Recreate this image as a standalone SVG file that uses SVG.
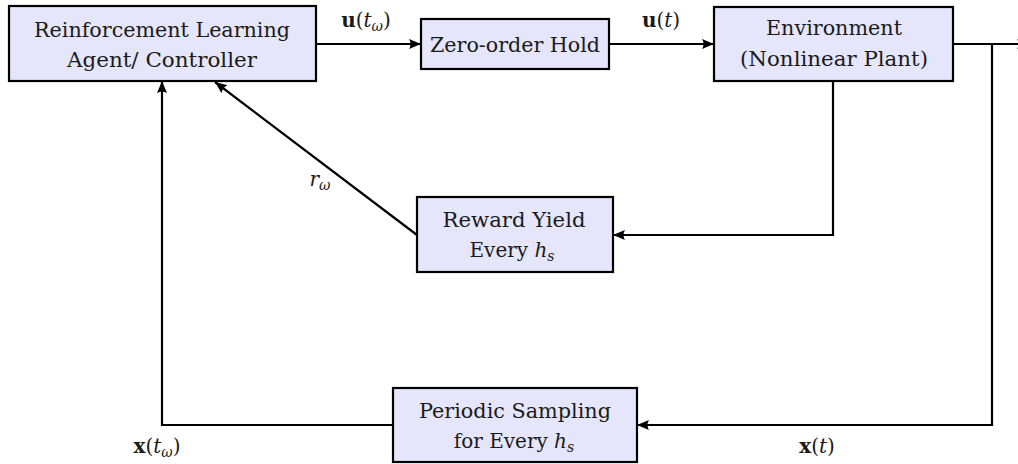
<svg xmlns="http://www.w3.org/2000/svg" width="1018" height="464" viewBox="0 0 1018 464">
  <style>
    .box { fill: #e5e5fb; stroke: #000; stroke-width: 2.2; }
    .lbl { font-family: "DejaVu Serif", "Liberation Serif", serif; font-size: 20px; fill: #1a1a1a; }
    .c { text-anchor: middle; }
    .wire { fill: none; stroke: #000; stroke-width: 2.2; marker-end: url(#head); }
    .it { font-style: italic; }
    .bf { font-weight: bold; }
    .sub { font-size: 14px; font-style: italic; }
  </style>
  <defs>
    <marker id="head" markerUnits="userSpaceOnUse" markerWidth="13" markerHeight="11" refX="12" refY="5" orient="auto">
      <path d="M0,0 L12,5 L0,10 Q3,5 0,0 z" fill="#000"/>
    </marker>
  </defs>

  <!-- connectors -->
  <g id="connectors">
    <path class="wire" d="M316,44 H421"/>
    <path class="wire" d="M609,44 H714"/>
    <path class="wire" d="M953,44 H1029"/>
    <path class="wire" d="M833,81 V235 H613"/>
    <path class="wire" d="M417,235 L215,82"/>
    <path class="wire" d="M992,44 V425 H637"/>
    <path class="wire" d="M393,425 H162 V81"/>
  </g>

  <!-- connector labels -->
  <g id="labels" class="lbl">
    <text x="366" y="27" class="c"><tspan class="bf">u</tspan>(<tspan class="it">t</tspan><tspan class="sub" dy="4">ω</tspan><tspan dy="-4">)</tspan></text>
    <text x="661" y="27" class="c"><tspan class="bf">u</tspan>(<tspan class="it">t</tspan>)</text>
    <text x="320" y="186" class="c"><tspan class="it">r</tspan><tspan class="sub" dy="4">ω</tspan></text>
    <text x="157" y="453" class="c"><tspan class="bf">x</tspan>(<tspan class="it">t</tspan><tspan class="sub" dy="4">ω</tspan><tspan dy="-4">)</tspan></text>
    <text x="817" y="453" class="c"><tspan class="bf">x</tspan>(<tspan class="it">t</tspan>)</text>
  </g>

  <!-- blocks -->
  <g id="agent">
    <rect class="box" x="9" y="6" width="307" height="75"/>
    <text class="lbl c" x="162" y="37" textLength="256" lengthAdjust="spacingAndGlyphs">Reinforcement Learning</text>
    <text class="lbl c" x="162" y="67" textLength="190" lengthAdjust="spacingAndGlyphs">Agent/ Controller</text>
  </g>
  <g id="zoh">
    <rect class="box" x="421" y="19" width="188" height="50"/>
    <text class="lbl c" x="515" y="52" textLength="170" lengthAdjust="spacingAndGlyphs">Zero-order Hold</text>
  </g>
  <g id="plant">
    <rect class="box" x="714" y="7" width="239" height="74"/>
    <text class="lbl c" x="834" y="35" textLength="136" lengthAdjust="spacingAndGlyphs">Environment</text>
    <text class="lbl c" x="834" y="66" textLength="188" lengthAdjust="spacingAndGlyphs">(Nonlinear Plant)</text>
  </g>
  <g id="reward">
    <rect class="box" x="417" y="197" width="196" height="75"/>
    <text class="lbl c" x="514" y="227" textLength="143" lengthAdjust="spacingAndGlyphs">Reward Yield</text>
    <text class="lbl c" x="512" y="257">Every <tspan class="it">h</tspan><tspan class="sub" dy="4">s</tspan></text>
  </g>
  <g id="sampler">
    <rect class="box" x="393" y="388" width="244" height="74"/>
    <text class="lbl c" x="515" y="418" textLength="192" lengthAdjust="spacingAndGlyphs">Periodic Sampling</text>
    <text class="lbl c" x="514" y="448">for Every <tspan class="it">h</tspan><tspan class="sub" dy="4">s</tspan></text>
  </g>
</svg>
